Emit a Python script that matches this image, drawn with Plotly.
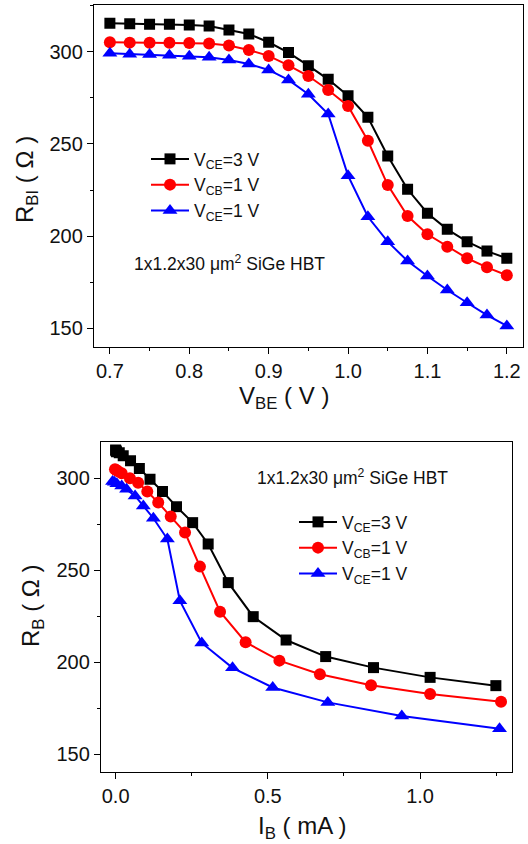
import plotly.graph_objects as go

# ---------------- data ----------------
vbe = [0.700, 0.725, 0.750, 0.775, 0.800, 0.825, 0.850, 0.875, 0.900, 0.925, 0.950,
       0.975, 1.000, 1.025, 1.050, 1.075, 1.100, 1.125, 1.150, 1.175, 1.200]
rbi_vce3 = [315.4, 315.2, 314.9, 314.8, 314.5, 313.9, 311.8, 309.6, 305.1, 299.5, 292.4,
            285.0, 276.1, 264.4, 243.4, 225.4, 212.4, 203.7, 197.0, 191.9, 188.0]
rbi_vcb1 = [305.1, 304.9, 304.8, 304.8, 304.7, 304.4, 303.3, 300.9, 297.7, 292.6, 286.8,
            279.2, 270.6, 251.7, 227.7, 210.9, 201.0, 194.3, 188.0, 183.1, 178.8]
rbi_vce1 = [299.1, 298.6, 298.5, 298.0, 297.5, 297.0, 295.5, 293.3, 290.1, 284.7, 276.9,
            266.2, 232.8, 210.5, 197.0, 186.5, 178.4, 170.8, 163.9, 157.2, 151.3]

ib_vce3 = [0.000, 0.001, 0.003, 0.012, 0.025, 0.049, 0.078, 0.113, 0.154, 0.200, 0.253,
           0.304, 0.370, 0.452, 0.560, 0.690, 0.847, 1.033, 1.249]
rb_vce3 = [315.4, 315.0, 314.5, 313.9, 312.2, 309.6, 305.4, 299.5, 292.8, 284.6, 275.9,
           264.3, 243.3, 224.8, 212.1, 203.1, 197.1, 191.8, 187.3]
ib_vcb1 = [-0.002, 0.002, 0.008, 0.020, 0.047, 0.074, 0.104, 0.140, 0.181, 0.228, 0.277,
           0.343, 0.427, 0.538, 0.671, 0.839, 1.033, 1.266]
rb_vcb1 = [304.9, 304.5, 303.8, 302.7, 300.0, 297.6, 292.8, 286.8, 279.2, 270.5, 252.0,
           227.5, 210.9, 200.9, 193.5, 187.5, 182.8, 178.6]
ib_vce1 = [-0.010, -0.004, 0.004, 0.020, 0.036, 0.064, 0.091, 0.124, 0.170, 0.211, 0.283,
           0.384, 0.516, 0.697, 0.940, 1.261]
rb_vce1 = [298.3, 297.8, 297.0, 295.8, 294.0, 290.4, 285.0, 278.3, 267.0, 233.5, 210.5,
           197.0, 186.3, 178.2, 170.8, 163.9]

names = ["V<sub>CE</sub>=3 V", "V<sub>CB</sub>=1 V", "V<sub>CE</sub>=1 V"]
colors = ["#000000", "#ff0000", "#0000ff"]
symbols = ["square", "circle", "triangle-up"]
msizes = [11, 12, 13]

FONT = "Liberation Sans, Arial, sans-serif"

fig = go.Figure()

top_sets = [rbi_vce3, rbi_vcb1, rbi_vce1]
for i in range(3):
    fig.add_trace(go.Scatter(
        x=vbe, y=top_sets[i], mode="lines+markers", name=names[i],
        line=dict(color=colors[i], width=2),
        marker=dict(symbol=symbols[i], size=msizes[i], color=colors[i]),
        xaxis="x", yaxis="y", legend="legend"))

bot_x = [ib_vce3, ib_vcb1, ib_vce1]
bot_y = [rb_vce3, rb_vcb1, rb_vce1]
for i in range(3):
    fig.add_trace(go.Scatter(
        x=bot_x[i], y=bot_y[i], mode="lines+markers", name=names[i],
        line=dict(color=colors[i], width=2),
        marker=dict(symbol=symbols[i], size=msizes[i], color=colors[i]),
        xaxis="x2", yaxis="y2", legend="legend2"))

W, H = 528, 844
def px(x):
    return x / W
def py(y):
    return 1 - y / H

axis_common = dict(showline=True, linecolor="black", linewidth=1.3, mirror=True,
                   ticks="outside", ticklen=6, tickwidth=1.2, tickcolor="black",
                   showgrid=False, zeroline=False,
                   tickfont=dict(family=FONT, size=20, color="#111"))

fig.update_layout(
    width=W, height=H,
    margin=dict(l=0, r=0, t=0, b=0),
    paper_bgcolor="white", plot_bgcolor="white",
    font=dict(family=FONT, color="#111"),
    xaxis=dict(domain=[px(94), px(522.7)], range=[0.68, 1.22], anchor="y",
               tickvals=[0.7, 0.8, 0.9, 1.0, 1.1, 1.2],
               ticktext=["0.7", "0.8", "0.9", "1.0", "1.1", "1.2"],
               minor=dict(ticks="outside", ticklen=3, dtick=0.05, tick0=0.75,
                          tickcolor="black", tickwidth=1.2),
               **axis_common),
    yaxis=dict(domain=[py(347), py(5)], range=[139.9, 325.3], anchor="x",
               tickvals=[150, 200, 250, 300],
               minor=dict(ticks="outside", ticklen=3, dtick=25, tick0=175,
                          tickcolor="black", tickwidth=1.2),
               **axis_common),
    xaxis2=dict(domain=[px(101), px(511.7)], range=[-0.048, 1.301], anchor="y2",
                tickvals=[0.0, 0.5, 1.0], ticktext=["0.0", "0.5", "1.0"],
                minor=dict(ticks="outside", ticklen=3, dtick=0.25, tick0=0.25,
                           tickcolor="black", tickwidth=1.2),
                **axis_common),
    yaxis2=dict(domain=[py(772.3), py(441.7)], range=[140.2, 319.9], anchor="x2",
                tickvals=[150, 200, 250, 300],
                minor=dict(ticks="outside", ticklen=3, dtick=25, tick0=175,
                           tickcolor="black", tickwidth=1.2),
                **axis_common),
    legend=dict(x=px(146), y=py(141), xanchor="left", yanchor="top",
                bgcolor="rgba(0,0,0,0)", font=dict(family=FONT, size=17.5, color="#111"),
                tracegroupgap=0, itemwidth=38),
    legend2=dict(x=px(294), y=py(504), xanchor="left", yanchor="top",
                 bgcolor="rgba(0,0,0,0)", font=dict(family=FONT, size=17.5, color="#111"),
                 tracegroupgap=0, itemwidth=38),
    showlegend=True,
)

ann_font = dict(family=FONT, size=17.5, color="#111")
title_font = dict(family=FONT, size=24, color="#111")
fig.add_annotation(text="1x1.2x30 \u03bcm<sup>2</sup> SiGe HBT", x=px(132), y=py(263),
                   xref="paper", yref="paper", xanchor="left", yanchor="middle",
                   showarrow=False, font=ann_font)
fig.add_annotation(text="1x1.2x30 \u03bcm<sup>2</sup> SiGe HBT", x=px(255), y=py(477),
                   xref="paper", yref="paper", xanchor="left", yanchor="middle",
                   showarrow=False, font=ann_font)
fig.add_annotation(text="V<sub>BE</sub> ( V )", x=px(284), y=py(398),
                   xref="paper", yref="paper", xanchor="center", yanchor="middle",
                   showarrow=False, font=title_font)
fig.add_annotation(text="I<sub>B</sub> ( mA )", x=px(302), y=py(827),
                   xref="paper", yref="paper", xanchor="center", yanchor="middle",
                   showarrow=False, font=title_font)
fig.add_annotation(text="R<sub>BI</sub> ( \u03a9 )", x=px(27), y=py(180),
                   xref="paper", yref="paper", xanchor="center", yanchor="middle",
                   textangle=-90, showarrow=False, font=title_font)
fig.add_annotation(text="R<sub>B</sub> ( \u03a9 )", x=px(32), y=py(606),
                   xref="paper", yref="paper", xanchor="center", yanchor="middle",
                   textangle=-90, showarrow=False, font=title_font)

fig.write_html("out.html")
